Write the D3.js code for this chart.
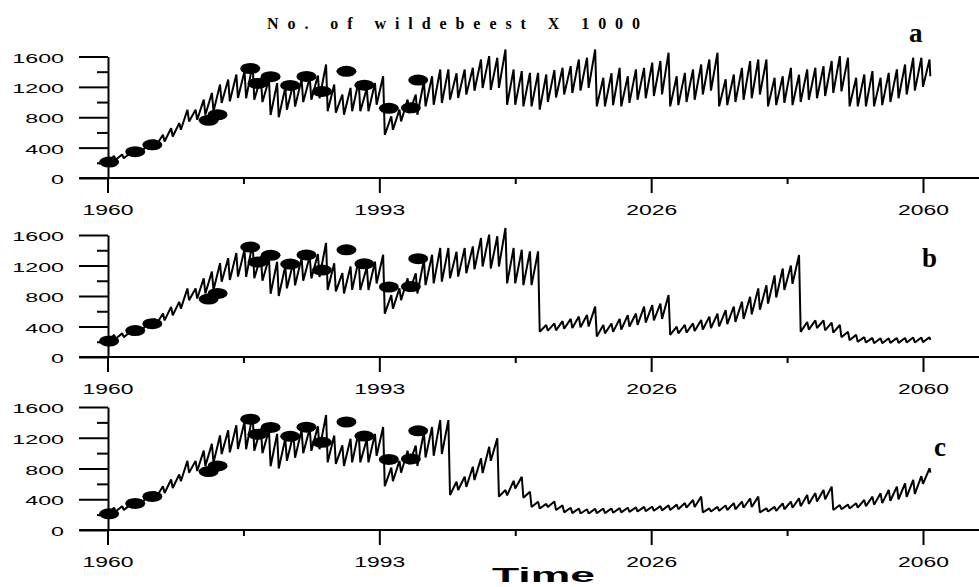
<!DOCTYPE html>
<html>
<head>
<meta charset="utf-8">
<script src="https://cdn.jsdelivr.net/npm/d3@7"></script>
<style>
  html, body { margin: 0; padding: 0; background: #fff; }
  svg { display: block; font-family: "Liberation Sans", Arial, sans-serif; }
</style>
</head>
<body>
<svg id="chart" width="979" height="587"></svg>
<script>
// Wildebeest model runs — three panels (a, b, c), thousands of animals.
// Each year is stored as [dry-season low, wet-season high]; the line goes low -> high -> next low.

// ─── Data ───────────────────────────────────────────────────────────────────

// shared history, 1959..2001
const histStart = 1959;
const histLow  = [190, 200, 240, 260, 290, 330, 380, 430, 480, 547, 635, 745, 767, 833, 878, 988, 1010, 1054,
                  1050, 1032, 1000, 830, 800, 900, 940, 1000, 1030, 1050, 880, 860, 833, 880, 880, 880, 965,
                  569, 635, 745, 855, 833, 943, 965, 988];
const histHigh = [215, 290, 310, 330, 370, 420, 500, 570, 657, 723, 899, 899, 1032, 1120, 1230, 1296, 1363, 1407,
                  1500, 1320, 1300, 1250, 1190, 1250, 1300, 1320, 1350, 1495, 1230, 1100, 1186, 1274, 1180, 1250, 1340,
                  811, 900, 1032, 1098, 1274, 1340, 1429, 1430];

// panel a, 2002..2060
const aStart = 2002;
const aLow  = [1032, 1054, 1098, 1150, 1186, 1160, 1186, 965, 965, 943, 943, 900, 1000, 1060, 1100, 1120, 1150, 1186,
               943, 943, 960, 943, 990, 1030, 1050, 1080, 1100, 943, 960, 1000, 1030, 1100, 1150,
               943, 960, 1000, 1030, 1050, 1100, 943, 960, 990, 960, 1000, 1030, 1050, 1080, 1120, 1140,
               943, 943, 943, 943, 960, 1000, 1050, 1100, 1150, 1200];
const aHigh = [1380, 1429, 1451, 1561, 1605, 1583, 1693, 1429, 1407, 1385, 1385, 1363, 1420, 1451, 1473, 1561, 1583, 1693,
               1320, 1380, 1450, 1340, 1430, 1450, 1520, 1540, 1650, 1340, 1385, 1430, 1495, 1561, 1650,
               1300, 1363, 1450, 1540, 1561, 1561, 1320, 1340, 1450, 1360, 1430, 1451, 1473, 1540, 1605, 1583,
               1320, 1363, 1407, 1320, 1385, 1430, 1495, 1583, 1583, 1560];
const aEnd = 1340;

// panel b follows a until 2012, then 2013..2060
const bStart = 2013;
const bLow  = [332, 345, 350, 370, 380, 390, 400, 270, 310, 330, 360, 400, 420, 450, 480, 500,
               290, 310, 320, 340, 360, 380, 400, 430, 460, 500, 560, 620, 700, 780, 880, 960,
               330, 360, 380, 350, 320, 260, 220, 200, 190, 180, 180, 185, 185, 190, 190, 195];
const bHigh = [420, 440, 470, 500, 530, 550, 660, 420, 440, 500, 550, 570, 660, 680, 700, 813,
               398, 420, 440, 485, 530, 570, 615, 660, 725, 790, 900, 940, 1070, 1160, 1200, 1337,
               460, 480, 480, 450, 420, 330, 290, 260, 250, 245, 245, 250, 250, 255, 255, 260];
const bEnd = 225;

// panel c, 2002..2060
const cStart = 2002;
const cLow  = [455, 520, 560, 650, 740, 900, 434, 450, 540, 420, 300, 280, 300, 260, 230, 220, 215, 215, 220, 220,
               225, 230, 235, 240, 245, 250, 255, 260, 270, 290, 300, 230, 240, 250, 260, 270, 290, 300,
               230, 240, 250, 270, 290, 310, 340, 370, 400, 260, 270, 280, 290, 310, 330, 350, 380, 400, 430, 470, 600];
const cHigh = [628, 693, 823, 932, 1084, 1192, 520, 640, 693, 498, 368, 340, 370, 320, 290, 280, 270, 275, 280, 280,
               285, 290, 295, 300, 305, 310, 320, 330, 350, 390, 434, 280, 300, 320, 350, 370, 410, 434,
               282, 300, 347, 370, 412, 456, 480, 521, 564, 325, 330, 347, 390, 434, 477, 521, 564, 608, 651, 700, 803];
const cEnd = 746;
const endYear = 2060.9;

// census counts (filled ellipses), same in every panel
const censusYear  = [1960.2, 1963.4, 1965.5, 1972.4, 1973.5, 1977.5, 1978.4, 1980.0, 1982.4, 1984.4, 1986.3,
                     1989.3, 1991.5, 1994.5, 1997.2, 1998.1];
const censusValue = [210, 346, 437, 760, 833, 1442, 1245, 1334, 1219, 1338, 1140, 1405, 1222, 918, 924, 1290];

// axes
const xTickYears  = [1960, 1976.667, 1993.333, 2010, 2026.667, 2043.333, 2060];
const xTickLabels = ['1960', '', '1993', '', '2026', '', '2060'];
const yMajor = [0, 400, 800, 1200, 1600];
const yMinor = [200, 600, 1000, 1400];

// ─── Build series ───────────────────────────────────────────────────────────

function yearly(start, lows, highs) {
  const pts = [];
  lows.forEach((lo, i) => {
    pts.push({ t: start + i, v: lo });
    pts.push({ t: start + i + 0.8, v: highs[i] });
  });
  return pts;
}

const hist = yearly(histStart, histLow, histHigh);
const seriesA = [...hist, ...yearly(aStart, aLow, aHigh), { t: endYear, v: aEnd }];
const seriesB = [...hist, ...yearly(aStart, aLow.slice(0, bStart - aStart), aHigh.slice(0, bStart - aStart)),
                 ...yearly(bStart, bLow, bHigh), { t: endYear, v: bEnd }];
const seriesC = [...hist, ...yearly(cStart, cLow, cHigh), { t: endYear, v: cEnd }];

const census = censusYear.map((t, i) => ({ t, v: censusValue[i] }));

// ─── Layout ─────────────────────────────────────────────────────────────────

const panels = [
  { key: 'a', data: seriesA, base: 178, top: 56.5, tag: [909, 42] },
  { key: 'b', data: seriesB, base: 357, top: 235,  tag: [922, 267] },
  { key: 'c', data: seriesC, base: 530, top: 407,  tag: [934, 456] },
];

const svg = d3.select('#chart');
const x = d3.scaleLinear().domain([1960, 2060]).range([107.5, 923]);

// widen text the way the original (horizontally stretched) figure shows it
function stretch(sel, k) {
  sel.each(function () {
    const w = this.getComputedTextLength();
    d3.select(this).attr('textLength', w * k).attr('lengthAdjust', 'spacingAndGlyphs');
  });
}

function styleAxis(g) {
  g.attr('font-size', null).attr('font-family', null);
  g.selectAll('path.domain').attr('stroke', '#000').attr('stroke-width', 2);
  g.selectAll('.tick line').attr('stroke', '#000').attr('stroke-width', 2);
}

panels.forEach(p => {
  const y = d3.scaleLinear().domain([0, 1600]).range([p.base, p.top]);
  const g = svg.append('g').attr('class', 'panel panel-' + p.key);

  // x axis baseline across the whole width
  g.append('line')
    .attr('x1', 79).attr('x2', 979)
    .attr('y1', p.base).attr('y2', p.base)
    .attr('stroke', '#000').attr('stroke-width', 2);

  // x ticks: labelled (long) and unlabelled (short)
  const xMajorIdx = xTickLabels.map((l, i) => l ? i : -1).filter(i => i >= 0);
  const xMinorIdx = xTickLabels.map((l, i) => l ? -1 : i).filter(i => i >= 0);

  const gxMajor = g.append('g')
    .attr('transform', `translate(0,${p.base})`)
    .call(d3.axisBottom(x)
      .tickValues(xMajorIdx.map(i => xTickYears[i]))
      .tickFormat(v => xTickLabels[xTickYears.indexOf(v)])
      .tickSize(15).tickSizeOuter(0).tickPadding(12));
  styleAxis(gxMajor);
  gxMajor.select('path.domain').remove();
  gxMajor.selectAll('text').attr('font-size', 14.5).attr('fill', '#000');
  stretch(gxMajor.selectAll('text'), 1.58);

  const gxMinor = g.append('g')
    .attr('transform', `translate(0,${p.base})`)
    .call(d3.axisBottom(x)
      .tickValues(xMinorIdx.map(i => xTickYears[i]))
      .tickFormat('')
      .tickSize(6).tickSizeOuter(0));
  styleAxis(gxMinor);
  gxMinor.select('path.domain').remove();

  // y axis
  const gy = g.append('g')
    .attr('transform', `translate(108,0)`)
    .call(d3.axisLeft(y).tickValues(yMajor).tickFormat(d3.format('d'))
      .tickSize(29).tickSizeOuter(0).tickPadding(15));
  styleAxis(gy);
  gy.selectAll('text').attr('font-size', 13.5).attr('fill', '#000').attr('dy', '0.42em');
  stretch(gy.selectAll('text'), 1.72);

  const gyMinor = g.append('g')
    .attr('transform', `translate(108,0)`)
    .call(d3.axisLeft(y).tickValues(yMinor).tickFormat('').tickSize(11).tickSizeOuter(0));
  styleAxis(gyMinor);
  gyMinor.select('path.domain').remove();

  // model line
  const line = d3.line().x(d => x(d.t)).y(d => y(d.v));
  g.append('path')
    .datum(p.data)
    .attr('d', line)
    .attr('fill', 'none')
    .attr('stroke', '#000')
    .attr('stroke-width', 2)
    .attr('stroke-linejoin', 'bevel');

  // census markers
  g.selectAll('ellipse.census')
    .data(census)
    .join('ellipse')
    .attr('class', 'census')
    .attr('cx', d => x(d.t))
    .attr('cy', d => y(d.v))
    .attr('rx', 10).attr('ry', 5.5)
    .attr('fill', '#000');

  // panel letter
  g.append('text')
    .attr('x', p.tag[0]).attr('y', p.tag[1])
    .attr('font-family', '"Liberation Serif", "Times New Roman", serif')
    .attr('font-weight', 'bold')
    .attr('font-size', 27)
    .text(p.key);
});

// title and x label
svg.append('text')
  .attr('x', 267).attr('y', 29)
  .attr('font-family', '"Liberation Serif", "Times New Roman", serif')
  .attr('font-weight', 'bold')
  .attr('font-size', 16)
  .attr('textLength', 373).attr('lengthAdjust', 'spacing')
  .text('No. of wildebeest X 1000');

svg.append('text')
  .attr('x', 492).attr('y', 582)
  .attr('font-weight', 'bold')
  .attr('font-size', 21)
  .attr('textLength', 103).attr('lengthAdjust', 'spacingAndGlyphs')
  .text('Time');
</script>
</body>
</html>
